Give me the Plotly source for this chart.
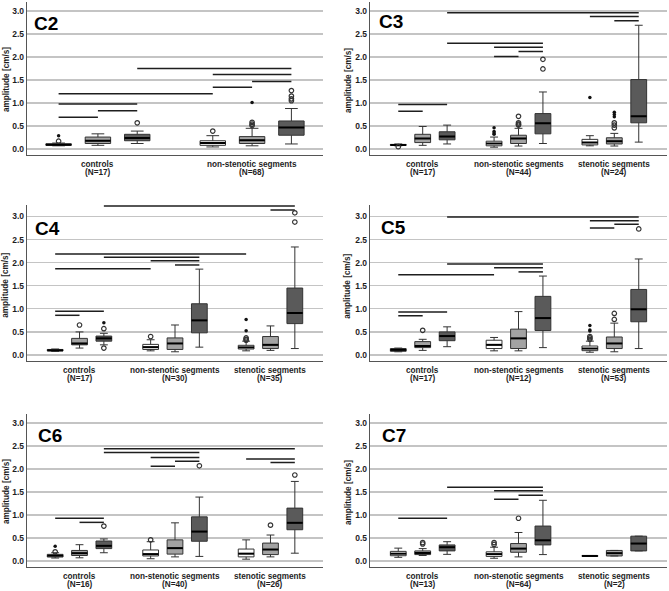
import plotly.graph_objects as go

# ---------------- data ----------------
# box order inside every panel: [controls: white, gray, dark, non-stenotic: white, gray, dark, stenotic: white, gray, dark]
C2_CATEGORIES = ["controls<br>(N=17)", "non-stenotic segments<br>(N=68)"]
C2_Q1 = [0.08, 0.12, 0.18, 0.08, 0.12, 0.30]
C2_MED = [0.095, 0.18, 0.24, 0.13, 0.19, 0.47]
C2_Q3 = [0.115, 0.26, 0.32, 0.18, 0.27, 0.61]
C2_LO = [0.07, 0.08, 0.12, 0.045, 0.07, 0.11]
C2_HI = [0.13, 0.33, 0.39, 0.29, 0.45, 0.88]
C2_CIRCLES = [[0.17], [], [0.57], [0.39], [0.58, 0.54, 0.51], [1.27, 1.15, 1.09, 1.05]]
C2_STARS = [[0.29], [], [], [], [1.01], []]
C2_SIG = [(2, 5, 1.75), (3, 5, 1.62), (4, 5, 1.47), (3, 4, 1.34), (0, 3, 1.20),
          (0, 2, 0.98), (1, 2, 0.83), (0, 1, 0.69)]

C3_CATEGORIES = ["controls<br>(N=17)", "non-stenotic segments<br>(N=44)", "stenotic segments<br>(N=24)"]
C3_Q1 = [0.08, 0.14, 0.20, 0.07, 0.12, 0.33, 0.09, 0.11, 0.57]
C3_MED = [0.09, 0.23, 0.27, 0.12, 0.23, 0.56, 0.14, 0.17, 0.71]
C3_Q3 = [0.10, 0.32, 0.375, 0.17, 0.30, 0.77, 0.21, 0.245, 1.51]
C3_LO = [0.07, 0.08, 0.11, 0.04, 0.065, 0.12, 0.07, 0.065, 0.15]
C3_HI = [0.11, 0.49, 0.52, 0.26, 0.45, 1.24, 0.29, 0.34, 2.69]
C3_CIRCLES = [[0.05], [], [], [], [0.71, 0.57, 0.54, 0.52], [1.95, 1.74], [], [0.57, 0.52, 0.46], []]
C3_STARS = [[], [], [], [0.46, 0.38, 0.35, 0.32], [], [], [1.12], [0.80, 0.75, 0.70], []]
C3_SIG = [(2, 8, 2.96), (6, 8, 2.88), (7, 8, 2.79), (2, 5, 2.30), (3, 5, 2.21),
          (4, 5, 2.12), (3, 4, 2.01), (0, 2, 0.97), (0, 1, 0.82)]

C4_CATEGORIES = ["controls<br>(N=17)", "non-stenotic segments<br>(N=30)", "stenotic segments<br>(N=35)"]
C4_Q1 = [0.09, 0.22, 0.30, 0.12, 0.12, 0.48, 0.13, 0.14, 0.68]
C4_MED = [0.10, 0.25, 0.36, 0.17, 0.25, 0.75, 0.165, 0.22, 0.91]
C4_Q3 = [0.12, 0.36, 0.41, 0.23, 0.37, 1.11, 0.21, 0.40, 1.45]
C4_LO = [0.08, 0.15, 0.22, 0.09, 0.07, 0.17, 0.09, 0.10, 0.14]
C4_HI = [0.13, 0.50, 0.47, 0.33, 0.65, 1.86, 0.30, 0.63, 2.34]
C4_CIRCLES = [[], [0.65], [0.57, 0.15], [0.40], [], [], [0.37, 0.34, 0.32], [], [3.08, 2.88]]
C4_STARS = [[], [], [0.70], [], [], [], [0.77, 0.525], [], []]
C4_SIG = [(2, 8, 3.23), (7, 8, 3.14), (0, 6, 2.19), (2, 5, 2.12), (3, 5, 2.04),
          (4, 5, 1.95), (0, 3, 1.87), (0, 2, 0.95), (0, 1, 0.86)]

C5_CATEGORIES = ["controls<br>(N=17)", "non-stenotic segments<br>(N=12)", "stenotic segments<br>(N=53)"]
C5_Q1 = [0.08, 0.16, 0.31, 0.14, 0.14, 0.53, 0.094, 0.14, 0.72]
C5_MED = [0.11, 0.195, 0.41, 0.22, 0.36, 0.80, 0.14, 0.25, 0.99]
C5_Q3 = [0.14, 0.29, 0.50, 0.32, 0.56, 1.27, 0.195, 0.39, 1.42]
C5_LO = [0.07, 0.10, 0.18, 0.09, 0.09, 0.16, 0.06, 0.07, 0.14]
C5_HI = [0.15, 0.34, 0.61, 0.38, 0.94, 1.71, 0.30, 0.69, 2.08]
C5_CIRCLES = [[], [0.535], [], [], [], [], [0.40, 0.37, 0.34], [0.90, 0.77], [2.73]]
C5_STARS = [[], [], [], [], [], [], [0.64, 0.54, 0.52], [], []]
C5_SIG = [(2, 8, 2.99), (6, 8, 2.91), (7, 8, 2.83), (6, 7, 2.75), (2, 5, 1.97),
          (3, 5, 1.89), (4, 5, 1.80), (0, 3, 1.74), (0, 2, 0.93), (0, 1, 0.85)]

C6_CATEGORIES = ["controls<br>(N=16)", "non-stenotic segments<br>(N=40)", "stenotic segments<br>(N=26)"]
C6_Q1 = [0.087, 0.12, 0.27, 0.11, 0.15, 0.43, 0.09, 0.14, 0.68]
C6_MED = [0.116, 0.17, 0.33, 0.15, 0.28, 0.64, 0.16, 0.25, 0.83]
C6_Q3 = [0.145, 0.23, 0.435, 0.24, 0.46, 0.96, 0.26, 0.39, 1.15]
C6_LO = [0.065, 0.07, 0.18, 0.05, 0.09, 0.10, 0.04, 0.09, 0.17]
C6_HI = [0.18, 0.355, 0.48, 0.42, 0.83, 1.39, 0.46, 0.565, 1.73]
C6_CIRCLES = [[0.20], [], [0.76], [0.46], [], [2.07], [], [0.78], [1.87]]
C6_STARS = [[0.32], [], [], [], [], [], [], [], []]
C6_SIG = [(2, 8, 2.44), (2, 5, 2.36), (3, 5, 2.25), (4, 5, 2.17), (6, 8, 2.22),
          (7, 8, 2.14), (3, 4, 2.06), (0, 2, 0.93), (1, 2, 0.84)]

C7_CATEGORIES = ["controls<br>(N=13)", "non-stenotic segments<br>(N=64)", "stenotic segments<br>(N=2)"]
C7_Q1 = [0.115, 0.14, 0.22, 0.10, 0.19, 0.35, 0.10, 0.11, 0.22]
C7_MED = [0.16, 0.175, 0.30, 0.15, 0.27, 0.45, 0.11, 0.17, 0.38]
C7_Q3 = [0.21, 0.22, 0.35, 0.20, 0.38, 0.76, 0.12, 0.23, 0.54]
C7_LO = [0.08, 0.12, 0.145, 0.06, 0.09, 0.14, 0.10, 0.11, 0.22]
C7_HI = [0.28, 0.27, 0.42, 0.30, 0.62, 1.32, 0.12, 0.23, 0.54]
C7_CIRCLES = [[], [0.40, 0.37], [], [0.40, 0.36], [0.93], [], [], [], []]
C7_STARS = [[], [], [], [], [], [], [], [], []]
C7_SIG = [(2, 5, 1.605), (3, 5, 1.53), (4, 5, 1.43), (3, 4, 1.345), (0, 2, 0.93)]

Y_TICKS = [0.0, 0.5, 1.0, 1.5, 2.0, 2.5, 3.0]
Y_TITLE = "amplitude [cm/s]"

# ---------------- styling / layout ----------------
FILLS = ["#ffffff", "#a3a3a3", "#5a5a5a"]
OFFSETS = [-0.255, 0.0, 0.255]
BOX_W = 0.165
FONT = "Liberation Sans, Arial, sans-serif"
INK = "#1e1e1e"

panels = [
    ("C2", C2_CATEGORIES, C2_Q1, C2_MED, C2_Q3, C2_LO, C2_HI, C2_CIRCLES, C2_STARS, C2_SIG),
    ("C3", C3_CATEGORIES, C3_Q1, C3_MED, C3_Q3, C3_LO, C3_HI, C3_CIRCLES, C3_STARS, C3_SIG),
    ("C4", C4_CATEGORIES, C4_Q1, C4_MED, C4_Q3, C4_LO, C4_HI, C4_CIRCLES, C4_STARS, C4_SIG),
    ("C5", C5_CATEGORIES, C5_Q1, C5_MED, C5_Q3, C5_LO, C5_HI, C5_CIRCLES, C5_STARS, C5_SIG),
    ("C6", C6_CATEGORIES, C6_Q1, C6_MED, C6_Q3, C6_LO, C6_HI, C6_CIRCLES, C6_STARS, C6_SIG),
    ("C7", C7_CATEGORIES, C7_Q1, C7_MED, C7_Q3, C7_LO, C7_HI, C7_CIRCLES, C7_STARS, C7_SIG),
]

W, H = 669, 591
X_DOMAINS = [[27 / W, 323 / W], [370 / W, 667 / W]]
ROW_Y = [  # (y domain, y range, axis-line pixel row)
    ([1 - 155 / H, 1 - 1.8 / H], [-0.13, 3.2], 155),
    ([1 - 361 / H, 1 - 204.5 / H], [-0.13, 3.26], 361),
    ([1 - 567 / H, 1 - 413.8 / H], [-0.13, 3.2], 567),
]
CAT_LINE_OFFSETS = [9.0, 17.3]
LABEL_POS = [(32, 23.5), (377, 21.5), (33, 228.5), (379, 227.5), (36, 435), (380, 435)]
YTITLE_X = [6, 348]

fig = go.Figure()
annotations = []


def xpos(i):
    return i // 3 + OFFSETS[i % 3]


for k, (name, cats, q1, med, q3, lo, hi, circ, stars, sig) in enumerate(panels):
    n = k + 1
    xa = "x" if n == 1 else f"x{n}"
    ya = "y" if n == 1 else f"y{n}"
    col = k % 2
    row = k // 2
    ncat = len(cats)

    # significance lines (drawn first, under boxes)
    lx, ly = [], []
    for a, b, yv in sig:
        lx += [xpos(a), xpos(b), None]
        ly += [yv, yv, None]
    fig.add_trace(go.Scatter(x=lx, y=ly, mode="lines", xaxis=xa, yaxis=ya,
                             line=dict(color=INK, width=1.5), hoverinfo="skip"))

    for i in range(len(q1)):
        xc = xpos(i)
        fig.add_trace(go.Box(
            x=[xc], q1=[q1[i]], median=[med[i]], q3=[q3[i]],
            lowerfence=[lo[i]], upperfence=[hi[i]],
            width=BOX_W, whiskerwidth=0.5, boxpoints=False,
            fillcolor=FILLS[i % 3], line=dict(color="#333333", width=1),
            xaxis=xa, yaxis=ya))
        fig.add_trace(go.Scatter(
            x=[xc - BOX_W / 2, xc + BOX_W / 2], y=[med[i], med[i]], mode="lines",
            line=dict(color="#000000", width=2), xaxis=xa, yaxis=ya, hoverinfo="skip"))
        if circ[i]:
            fig.add_trace(go.Scatter(
                x=[xc] * len(circ[i]), y=circ[i], mode="markers", xaxis=xa, yaxis=ya,
                marker=dict(symbol="circle-open", size=4.5, color="#333333", line=dict(width=1.2)),
                cliponaxis=False))
        if stars[i]:
            fig.add_trace(go.Scatter(
                x=[xc] * len(stars[i]), y=stars[i], mode="markers", xaxis=xa, yaxis=ya,
                marker=dict(symbol="circle", size=3.5, color="#111111"),
                cliponaxis=False))

    ydom, yrng, axis_px = ROW_Y[row]
    xrng = [-0.46, 1.46] if ncat == 2 else [-0.55, 2.55]
    fig.layout[("xaxis" if n == 1 else f"xaxis{n}")] = dict(
        domain=X_DOMAINS[col], anchor=ya, range=xrng,
        tickvals=list(range(ncat)), showticklabels=False,
        showgrid=False, zeroline=False, showline=True,
        linecolor="#555555", linewidth=1.3, ticks="")
    fig.layout[("yaxis" if n == 1 else f"yaxis{n}")] = dict(
        domain=ydom, anchor=xa, range=yrng,
        tickvals=Y_TICKS, ticktext=[f"{v:.1f}" for v in Y_TICKS],
        showgrid=True, gridcolor="#c4c4c4", gridwidth=1.3,
        zeroline=False, showline=True, linecolor="#555555", linewidth=1.3, ticks="",
        tickfont=dict(family=FONT, size=8.5, color=INK, weight="bold"))

    # category labels (two lines each)
    for g, cat in enumerate(cats):
        for li, part in enumerate(cat.split("<br>")):
            annotations.append(dict(
                text=part, x=g, y=1 - (axis_px + CAT_LINE_OFFSETS[li]) / H,
                xref=xa, yref="paper", xanchor="center", yanchor="middle",
                showarrow=False,
                font=dict(family=FONT, size=8.2, color=INK, weight="bold")))

    lx_px, ly_px = LABEL_POS[k]
    annotations.append(dict(
        text=name, x=lx_px / W, y=1 - ly_px / H, xref="paper", yref="paper",
        xanchor="left", yanchor="middle", showarrow=False,
        font=dict(family=FONT, size=19, color="#000000", weight="bold")))
    annotations.append(dict(
        text=Y_TITLE, x=YTITLE_X[col] / W, y=1.5, xref="paper", yref=ya,
        xanchor="center", yanchor="middle", textangle=-90, showarrow=False,
        font=dict(family=FONT, size=8.2, color=INK, weight="bold")))

fig.update_layout(
    width=W, height=H, margin=dict(l=0, r=0, t=0, b=0),
    paper_bgcolor="white", plot_bgcolor="white",
    showlegend=False, annotations=annotations, boxmode="overlay")

# remove the browser's default 8px page margin so the figure fills the window
fig.write_html("out.html",
               config={"displayModeBar": False, "staticPlot": True},
               post_script="document.body.style.margin='0';document.body.style.overflow='hidden';")
